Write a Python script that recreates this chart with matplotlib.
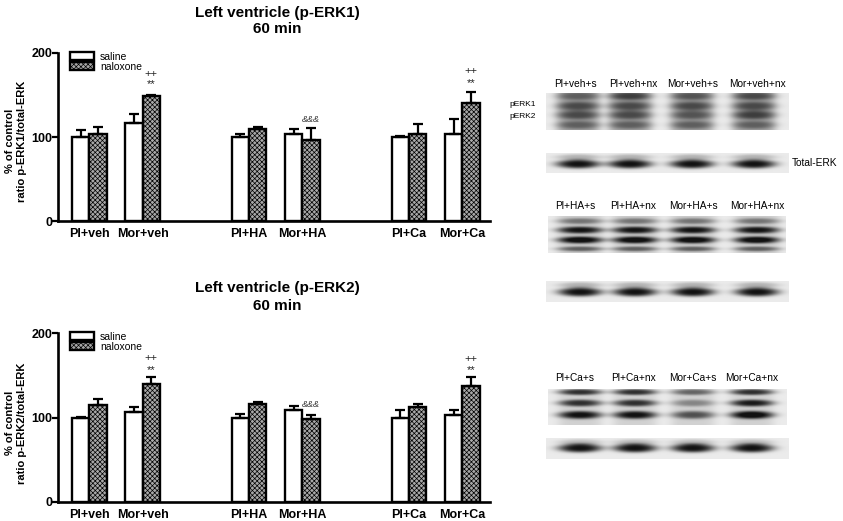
import numpy as np
import matplotlib
matplotlib.use('Agg')
import matplotlib.pyplot as plt

plt.rcParams['font.family'] = ['Liberation Sans', 'DejaVu Sans']
plt.rcParams['hatch.linewidth'] = 0.5

# ---- bar chart data ----
groups = ['Pl+veh', 'Mor+veh', 'Pl+HA', 'Mor+HA', 'Pl+Ca', 'Mor+Ca']
group_x = [0, 1, 3, 4, 6, 7]

erk1_saline = [100, 117, 100, 103.5, 100, 103.5]
erk1_saline_err = [8.5, 10, 3.5, 6.5, 1, 18.5]
erk1_nalox = [104, 149, 109, 96, 103.5, 141]
erk1_nalox_err = [8, 1, 3, 15, 12, 12]

erk2_saline = [100, 106.3, 100, 109, 100, 103.5]
erk2_saline_err = [1, 6.7, 4.3, 4.8, 9, 4.8]
erk2_nalox = [114.6, 140.2, 115.8, 98.4, 112.6, 137]
erk2_nalox_err = [7, 8.3, 2, 5, 3.5, 10.5]

# significance marks: (group index, text, y)
erk1_marks = [(1, '++', 175), (1, '**', 163), (5, '++', 179), (5, '**', 164), (3, '&&&', 121)]
erk2_marks = [(1, '++', 171), (1, '**', 156), (5, '++', 169.5), (5, '**', 156), (3, '&&&', 115)]

# ---- blot panel text ----
veh_lanes = ['Pl+veh+s', 'Pl+veh+nx', 'Mor+veh+s', 'Mor+veh+nx']
ha_lanes = ['Pl+HA+s', 'Pl+HA+nx', 'Mor+HA+s', 'Mor+HA+nx']
ca_lanes = ['Pl+Ca+s', 'Pl+Ca+nx', 'Mor+Ca+s', 'Mor+Ca+nx']

W, H = 843, 521
fig = plt.figure(figsize=(W / 100, H / 100), dpi=100)


def bar_panel(rect, saline, saline_err, nalox, nalox_err, marks):
    ax = fig.add_axes(rect)
    x = np.array(group_x, dtype=float)
    bw = 0.325
    ax.bar(x - bw / 2, saline, bw, color='white', edgecolor='black', linewidth=1.7,
           yerr=[np.zeros(len(saline)), saline_err], capsize=3.5,
           error_kw=dict(elinewidth=1.6, capthick=1.6), label='saline', zorder=2)
    ax.bar(x + bw / 2, nalox, bw, color='#a8a8a8', edgecolor='black', linewidth=1.7,
           hatch='xxxxxxx', yerr=[np.zeros(len(nalox)), nalox_err], capsize=3.5,
           error_kw=dict(elinewidth=1.6, capthick=1.6), label='naloxone', zorder=2)
    for gi, txt, yv in marks:
        if txt.startswith('&'):
            ax.text(x[gi] + bw / 2, yv, txt, ha='center', va='center', fontsize=6.5,
                    style='italic', color='#333333')
        else:
            ax.text(x[gi] + bw / 2, yv, txt, ha='center', va='center', fontsize=8,
                    color='#222222')
    ax.set_xlim(-0.587, 7.52)
    ax.set_ylim(0, 200)
    ax.set_yticks([0, 100, 200])
    ax.set_xticks(x)
    ax.set_xticklabels(groups, fontweight='bold', fontsize=9)
    ax.tick_params(axis='x', length=0, pad=5)
    ax.tick_params(axis='y', length=4, width=1.6, labelsize=9, pad=0)
    for lbl in ax.get_yticklabels():
        lbl.set_fontweight('bold')
    for s in ['top', 'right']:
        ax.spines[s].set_visible(False)
    for s in ['left', 'bottom']:
        ax.spines[s].set_linewidth(1.9)
    ax.legend(loc='upper left', bbox_to_anchor=(0.01, 1.05), frameon=False, fontsize=7.5,
              handlelength=2.3, handleheight=0.8, labelspacing=0.0, borderpad=0.2,
              handletextpad=0.6)
    return ax


ax1 = bar_panel([58 / W, 1 - 221 / H, 432 / W, 168 / H],
                erk1_saline, erk1_saline_err, erk1_nalox, erk1_nalox_err, erk1_marks)
ax2 = bar_panel([58 / W, 1 - 502 / H, 432 / W, 169 / H],
                erk2_saline, erk2_saline_err, erk2_nalox, erk2_nalox_err, erk2_marks)

fig.text(277 / W, 1 - 13 / H, 'Left ventricle (p-ERK1)', ha='center', va='center',
         fontsize=11, fontweight='bold')
fig.text(277 / W, 1 - 29 / H, '60 min', ha='center', va='center', fontsize=11, fontweight='bold')
fig.text(277 / W, 1 - 288 / H, 'Left ventricle (p-ERK2)', ha='center', va='center',
         fontsize=11, fontweight='bold')
fig.text(277 / W, 1 - 306 / H, '60 min', ha='center', va='center', fontsize=11, fontweight='bold')

fig.text(16 / W, 1 - 141 / H, '% of control\nratio p-ERK1/total-ERK', rotation=90,
         ha='center', va='center', fontsize=8, fontweight='bold', linespacing=1.15)
fig.text(16 / W, 1 - 423 / H, '% of control\nratio p-ERK2/total-ERK', rotation=90,
         ha='center', va='center', fontsize=8, fontweight='bold', linespacing=1.15)

# ---- western blot panel (drawn in pixel coordinates) ----
axb = fig.add_axes([0, 0, 1, 1], zorder=-1)
axb.set_xlim(0, W)
axb.set_ylim(H, 0)
axb.axis('off')


def blot(x0, x1, y0, y1, lanes, bands, lane_w=40, base=0.0, bg=0.92):
    nx, ny = int((x1 - x0) * 3), int((y1 - y0) * 3)
    xs = np.linspace(x0, x1, nx)
    ys = np.linspace(y0, y1, ny)
    X, Y = np.meshgrid(xs, ys)
    dark = np.zeros_like(X)
    for li, cx in enumerate(lanes):
        dark += base * np.exp(-np.abs((X - cx) / (lane_w / 2)) ** 5)
        for yc, sig, amp in bands:
            a = amp[li] if isinstance(amp, (list, tuple)) else amp
            r2 = ((X - cx) / (lane_w / 2)) ** 2 + ((Y - (y0 + yc)) / sig) ** 2
            dark += a * np.exp(-r2 ** 1.6)
    img = bg - 0.85 * np.clip(dark, 0, 1.0)
    axb.imshow(img, cmap='gray', vmin=0, vmax=1, extent=[x0, x1, y1, y0],
               aspect='auto', interpolation='bilinear')


lx_veh = [578, 630, 692, 754]
lx_ha = [580, 635, 693, 757]
lx_ca = [580, 635, 693, 752]

blot(546, 789, 93, 130, lx_veh, [(3, 4, [0.3, 0.45, 0.35, 0.4]), (13, 4.5, 0.4),
                                 (22, 4.5, [0.4, 0.4, 0.35, 0.45]), (32, 4, 0.3)],
     lane_w=44, base=0.35)
blot(546, 789, 153, 173, lx_veh, [(4, 3, 0.25), (11, 4.5, 1.0)], lane_w=44)
blot(548, 786, 216, 253, lx_ha, [(5, 3, 0.4), (14, 3.5, 0.85), (24, 3.5, 0.95), (33, 2.5, 0.5)],
     lane_w=46, base=0.15)
blot(546, 789, 281, 302, lx_ha, [(4, 3, 0.25), (11, 4.5, 1.0)], lane_w=44)
blot(548, 787, 389, 425, lx_ca, [(3, 3, [0.75, 0.75, 0.5, 0.75]), (14, 3.5, [0.75, 0.75, 0.35, 0.85]),
                                 (26, 4, [0.9, 0.9, 0.6, 1.0])], lane_w=44, base=0.12)
blot(546, 789, 438, 459, lx_ca, [(4, 3, 0.2), (10, 4.5, 1.0)], lane_w=44)

for names, cxs, yy in [(veh_lanes, [575, 633, 693, 757], 84),
                       (ha_lanes, [575, 633, 693, 757], 206),
                       (ca_lanes, [575, 633, 693, 752], 378)]:
    for nm, cx in zip(names, cxs):
        axb.text(cx, yy, nm, ha='center', va='center', fontsize=7.3)

axb.text(509, 105, 'pERK1', ha='left', va='center', fontsize=6)
axb.text(509, 116, 'pERK2', ha='left', va='center', fontsize=6)
axb.text(792, 163, 'Total-ERK', ha='left', va='center', fontsize=7.3)

fig.savefig('out.png', dpi=100)
